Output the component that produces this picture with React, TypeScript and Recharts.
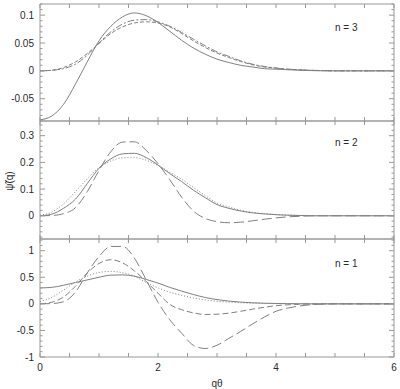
import { LineChart, Line, XAxis, YAxis, ReferenceArea } from "recharts";

const FRAME = "#999999";
const INK = "#808080";
const TEXT = "#2a2a2a";
const FONT = "'Liberation Sans', Arial, Helvetica, sans-serif";

// q-theta grid shared by every panel
const qTheta = [
  0, 0.2, 0.4, 0.6, 0.8, 1.0, 1.2, 1.4, 1.6, 1.8, 2.0, 2.2, 2.4, 2.6, 2.8, 3.0,
  3.2, 3.4, 3.6, 3.8, 4.0, 4.2, 4.4, 4.6, 4.8, 5.0, 6.0,
];

// n = 3
const n3Solid = [
  -0.088, -0.081, -0.06, -0.024, 0.016, 0.054, 0.08, 0.097, 0.104, 0.099, 0.087,
  0.071, 0.055, 0.041, 0.03, 0.021, 0.015, 0.01, 0.007, 0.004, 0.003, 0.002,
  0.001, 0.0005, 0, 0, 0,
];
const n3Dash = [
  0, 0.001, 0.006, 0.016, 0.031, 0.049, 0.067, 0.079, 0.086, 0.088, 0.086, 0.079,
  0.067, 0.054, 0.042, 0.032, 0.024, 0.017, 0.011, 0.007, 0.005, 0.003, 0.002,
  0.001, 0.0005, 0, 0,
];
const n3DashDot = [
  0, 0.001, 0.004, 0.012, 0.028, 0.05, 0.07, 0.084, 0.091, 0.092, 0.088, 0.08,
  0.069, 0.057, 0.045, 0.034, 0.026, 0.018, 0.012, 0.008, 0.005, 0.003, 0.002,
  0.001, 0.0005, 0, 0,
];

// n = 2
const n2Solid = [
  0, 0.006, 0.028, 0.062, 0.12, 0.178, 0.213, 0.232, 0.234, 0.218, 0.19, 0.158,
  0.128, 0.096, 0.068, 0.042, 0.028, 0.018, 0.011, 0.007, 0.004, 0.002, 0.001, 0,
  0, 0, 0,
];
const n2Dot = [
  0.002, 0.014, 0.045, 0.09, 0.138, 0.18, 0.205, 0.217, 0.218, 0.208, 0.188,
  0.163, 0.137, 0.106, 0.076, 0.048, 0.033, 0.021, 0.013, 0.008, 0.005, 0.003,
  0.001, 0, 0, 0, 0,
];
const n2LongDash = [
  0, 0.001, 0.008, 0.03, 0.09, 0.17, 0.24, 0.276, 0.277, 0.245, 0.195, 0.135,
  0.07, 0.018, -0.01, -0.022, -0.026, -0.024, -0.019, -0.013, -0.008, -0.004,
  -0.002, 0, 0, 0, 0,
];

// n = 1
const n1Solid = [
  0.3, 0.31, 0.35, 0.4, 0.45, 0.5, 0.54, 0.545, 0.52, 0.46, 0.39, 0.31, 0.24,
  0.175, 0.12, 0.08, 0.052, 0.033, 0.02, 0.012, 0.007, 0.004, 0.002, 0.001, 0, 0,
  0,
];
const n1Dot = [
  0.04, 0.12, 0.26, 0.41, 0.52, 0.59, 0.61, 0.585, 0.52, 0.4, 0.3, 0.22, 0.16,
  0.11, 0.075, 0.05, 0.032, 0.02, 0.012, 0.007, 0.004, 0.002, 0.001, 0, 0, 0, 0,
];
const n1Dash = [
  0, 0.03, 0.13, 0.33, 0.58, 0.76, 0.83, 0.77, 0.62, 0.42, 0.2, -0.01, -0.11,
  -0.17, -0.2, -0.195, -0.175, -0.14, -0.1, -0.065, -0.035, -0.018, -0.008,
  -0.003, 0, 0, 0,
];
const n1LongDash = [
  0, 0.005, 0.04, 0.22, 0.58, 0.89, 1.08, 1.08, 0.86, 0.45, 0.03, -0.3, -0.55,
  -0.78, -0.84, -0.78, -0.65, -0.52, -0.38, -0.25, -0.14, -0.08, -0.04, -0.015,
  -0.005, 0, 0,
];

const xTicks = [0, 0.5, 1, 1.5, 2, 2.5, 3, 3.5, 4, 4.5, 5, 5.5, 6];
const xLabels = [0, 2, 4, 6];

type Series = { name: string; values: number[]; dash?: string };

const steps = (lo: number, hi: number, step: number) => {
  const out: number[] = [];
  for (let v = Math.ceil(lo / step - 1e-6) * step; v <= hi + 1e-9; v += step) {
    out.push(Math.round(v * 10000) / 10000);
  }
  return out;
};

const isLabel = (v: number, labels: number[]) =>
  labels.some((l) => Math.abs(l - v) < 1e-6);

const XTick = (p: any) => {
  const { x, y, payload, side, withLabels } = p;
  const dir = side === "bottom" ? -1 : 1;
  const v = payload.value;
  return (
    <g>
      <line x1={x} x2={x} y1={y} y2={y + dir * 4} stroke={FRAME} strokeWidth={1} />
      {withLabels && isLabel(v, xLabels) && (
        <text x={x} y={y + 14} textAnchor="middle" fontSize={10} fill={TEXT} fontFamily={FONT}>
          {v}
        </text>
      )}
    </g>
  );
};

const YTick = (p: any) => {
  const { x, y, payload, side, labels } = p;
  const dir = side === "left" ? 1 : -1;
  const major = isLabel(payload.value, labels);
  return (
    <g>
      <line x1={x} x2={x + dir * (major ? 5 : 2.5)} y1={y} y2={y} stroke={FRAME} strokeWidth={1} />
      {side === "left" && major && (
        <text x={x - 6} y={y + 3.5} textAnchor="end" fontSize={10} fill={TEXT} fontFamily={FONT}>
          {payload.value}
        </text>
      )}
    </g>
  );
};

interface PanelProps {
  series: Series[];
  domain: [number, number];
  minorStep: number;
  yLabels: number[];
  top: number;
  height: number;
  bottom?: boolean;
}

const Panel = ({ series, domain, minorStep, yLabels, top, height, bottom }: PanelProps) => {
  const data = qTheta.map((q, i) => {
    const row: Record<string, number> = { q };
    series.forEach((s) => (row[s.name] = s.values[i]));
    return row;
  });
  const yTicks = steps(domain[0], domain[1], minorStep);
  return (
    <div style={{ position: "absolute", left: 0, top }}>
      <LineChart width={400} height={height} data={data} margin={{ top: 0, right: 5, bottom: 0, left: 0 }}>
        <XAxis
          xAxisId="b"
          dataKey="q"
          type="number"
          domain={[0, 6]}
          ticks={xTicks}
          interval={0}
          height={bottom ? 32 : 1}
          tickSize={0}
          tickMargin={0}
          axisLine={false}
          tick={(t: any) => <XTick {...t} side="bottom" withLabels={bottom} />}
          label={
            bottom
              ? { value: "qθ", position: "insideBottom", offset: 2, fontSize: 10, fill: TEXT, fontFamily: FONT }
              : undefined
          }
        />
        <XAxis
          xAxisId="t"
          orientation="top"
          dataKey="q"
          type="number"
          domain={[0, 6]}
          ticks={xTicks}
          interval={0}
          height={1}
          tickSize={0}
          tickMargin={0}
          axisLine={false}
          tick={(t: any) => <XTick {...t} side="top" />}
        />
        <YAxis
          yAxisId="l"
          type="number"
          domain={domain}
          allowDataOverflow
          ticks={yTicks}
          interval={0}
          width={40}
          tickSize={0}
          tickMargin={0}
          axisLine={false}
          tick={(t: any) => <YTick {...t} side="left" labels={yLabels} />}
        />
        <YAxis
          yAxisId="r"
          orientation="right"
          type="number"
          domain={domain}
          allowDataOverflow
          ticks={yTicks}
          interval={0}
          width={1}
          tickSize={0}
          tickMargin={0}
          axisLine={false}
          tick={(t: any) => <YTick {...t} side="right" labels={yLabels} />}
        />
        <ReferenceArea
          xAxisId="b"
          yAxisId="l"
          x1={0}
          x2={6}
          y1={domain[0]}
          y2={domain[1]}
          fill="none"
          stroke={FRAME}
          strokeWidth={1}
          ifOverflow="visible"
        />
        {series.map((s) => (
          <Line
            key={s.name}
            xAxisId="b"
            yAxisId="l"
            dataKey={s.name}
            type="monotone"
            stroke={INK}
            strokeWidth={1}
            strokeDasharray={s.dash}
            dot={false}
            isAnimationActive={false}
          />
        ))}
      </LineChart>
    </div>
  );
};

const tagStyle = (top: number): React.CSSProperties => ({
  position: "absolute",
  left: 335,
  top,
  fontSize: 10,
  fontFamily: FONT,
  color: TEXT,
  whiteSpace: "nowrap",
});

export default function App() {
  return (
    <div style={{ position: "absolute", left: 0, top: 0, width: 400, height: 389, background: "#fff" }}>
      <Panel
        top={3}
        height={119}
        domain={[-0.09, 0.12]}
        minorStep={0.01}
        yLabels={[-0.05, 0, 0.05, 0.1]}
        series={[
          { name: "solid", values: n3Solid },
          { name: "dash", values: n3Dash, dash: "4 2" },
          { name: "dashdot", values: n3DashDot, dash: "7 2 2 2" },
        ]}
      />
      <Panel
        top={120}
        height={120}
        domain={[-0.087, 0.355]}
        minorStep={0.02}
        yLabels={[0, 0.1, 0.2, 0.3]}
        series={[
          { name: "solid", values: n2Solid },
          { name: "dot", values: n2Dot, dash: "1 2" },
          { name: "long", values: n2LongDash, dash: "10 4" },
        ]}
      />
      <Panel
        top={238}
        height={151}
        bottom
        domain={[-1, 1.22]}
        minorStep={0.1}
        yLabels={[-1, -0.5, 0, 0.5, 1]}
        series={[
          { name: "solid", values: n1Solid },
          { name: "dot", values: n1Dot, dash: "1 2" },
          { name: "dash", values: n1Dash, dash: "6 3" },
          { name: "long", values: n1LongDash, dash: "10 4" },
        ]}
      />
      <div style={tagStyle(22)}>n = 3</div>
      <div style={tagStyle(137)}>n = 2</div>
      <div style={tagStyle(258)}>n = 1</div>
      <div
        style={{
          position: "absolute",
          left: 9,
          top: 181,
          transform: "translate(-50%, -50%) rotate(-90deg)",
          fontSize: 10,
          fontFamily: FONT,
          color: TEXT,
          whiteSpace: "nowrap",
        }}
      >
        ψ̃(q)
      </div>
    </div>
  );
}
